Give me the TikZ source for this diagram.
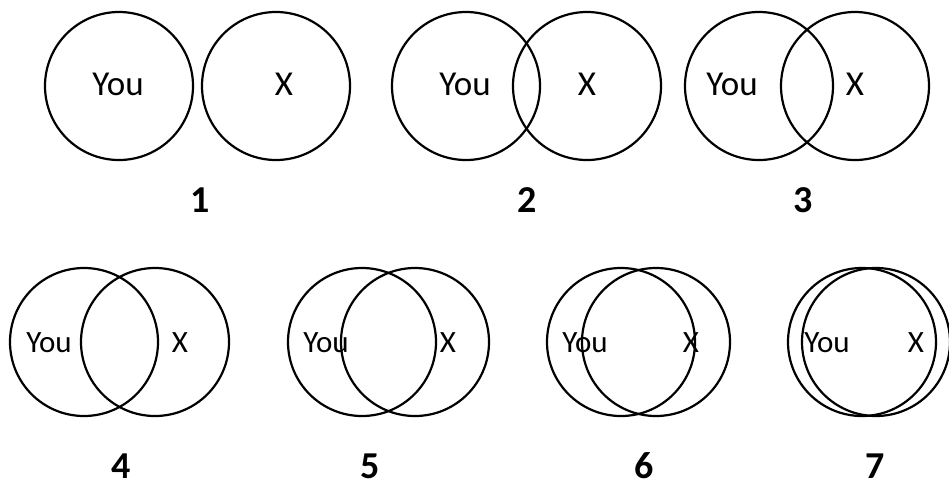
\documentclass[tikz,border=0pt]{standalone}
\usepackage{fontspec}
\setmainfont{Carlito}
\begin{document}
\begin{tikzpicture}[x=1pt,y=-1pt,
  circ/.style={draw=black,line width=2.2pt,circle,minimum size=148pt,inner sep=0pt},
  lbltop/.style={anchor=base,inner sep=0pt,font=\fontsize{35}{35}\selectfont},
  lblbot/.style={anchor=base,inner sep=0pt,font=\fontsize{31}{31}\selectfont},
  num/.style={anchor=base,inner sep=0pt,font=\fontsize{38}{38}\selectfont\bfseries}]
\useasboundingbox[fill=white] (0,0) rectangle (949,491);
% panel 1
\node[circ] (p1a) at (119,86) {};
\node[circ] (p1b) at (276,86) {};
\node[lbltop] (t1a) at (118,95) {You};
\node[lbltop] (t1b) at (284,95) {X};
\node[num] (n1) at (200,212) {1};
% panel 2
\node[circ] (p2a) at (466,86) {};
\node[circ] (p2b) at (587,86) {};
\node[lbltop] (t2a) at (465,95) {You};
\node[lbltop] (t2b) at (587,95) {X};
\node[num] (n2) at (527,212) {2};
% panel 3
\node[circ] (p3a) at (759,86) {};
\node[circ] (p3b) at (855,86) {};
\node[lbltop] (t3a) at (732,95) {You};
\node[lbltop] (t3b) at (855,95) {X};
\node[num] (n3) at (803,212) {3};
% panel 4
\node[circ] (p4a) at (84,342) {};
\node[circ] (p4b) at (155,342) {};
\node[lblbot] (t4a) at (49,352) {You};
\node[lblbot] (t4b) at (180,352) {X};
\node[num] (n4) at (121,478) {4};
% panel 5
\node[circ] (p5a) at (362,342) {};
\node[circ] (p5b) at (415,342) {};
\node[lblbot] (t5a) at (326,352) {You};
\node[lblbot] (t5b) at (448,352) {X};
\node[num] (n5) at (370,478) {5};
% panel 6
\node[circ] (p6a) at (621,342) {};
\node[circ] (p6b) at (656,342) {};
\node[lblbot] (t6a) at (585,352) {You};
\node[lblbot] (t6b) at (691,352) {X};
\node[num] (n6) at (644,478) {6};
% panel 7
\node[circ] (p7a) at (862,342) {};
\node[circ] (p7b) at (876,342) {};
\node[lblbot] (t7a) at (827,352) {You};
\node[lblbot] (t7b) at (916,352) {X};
\node[num] (n7) at (875,478) {7};
\end{tikzpicture}
\end{document}
